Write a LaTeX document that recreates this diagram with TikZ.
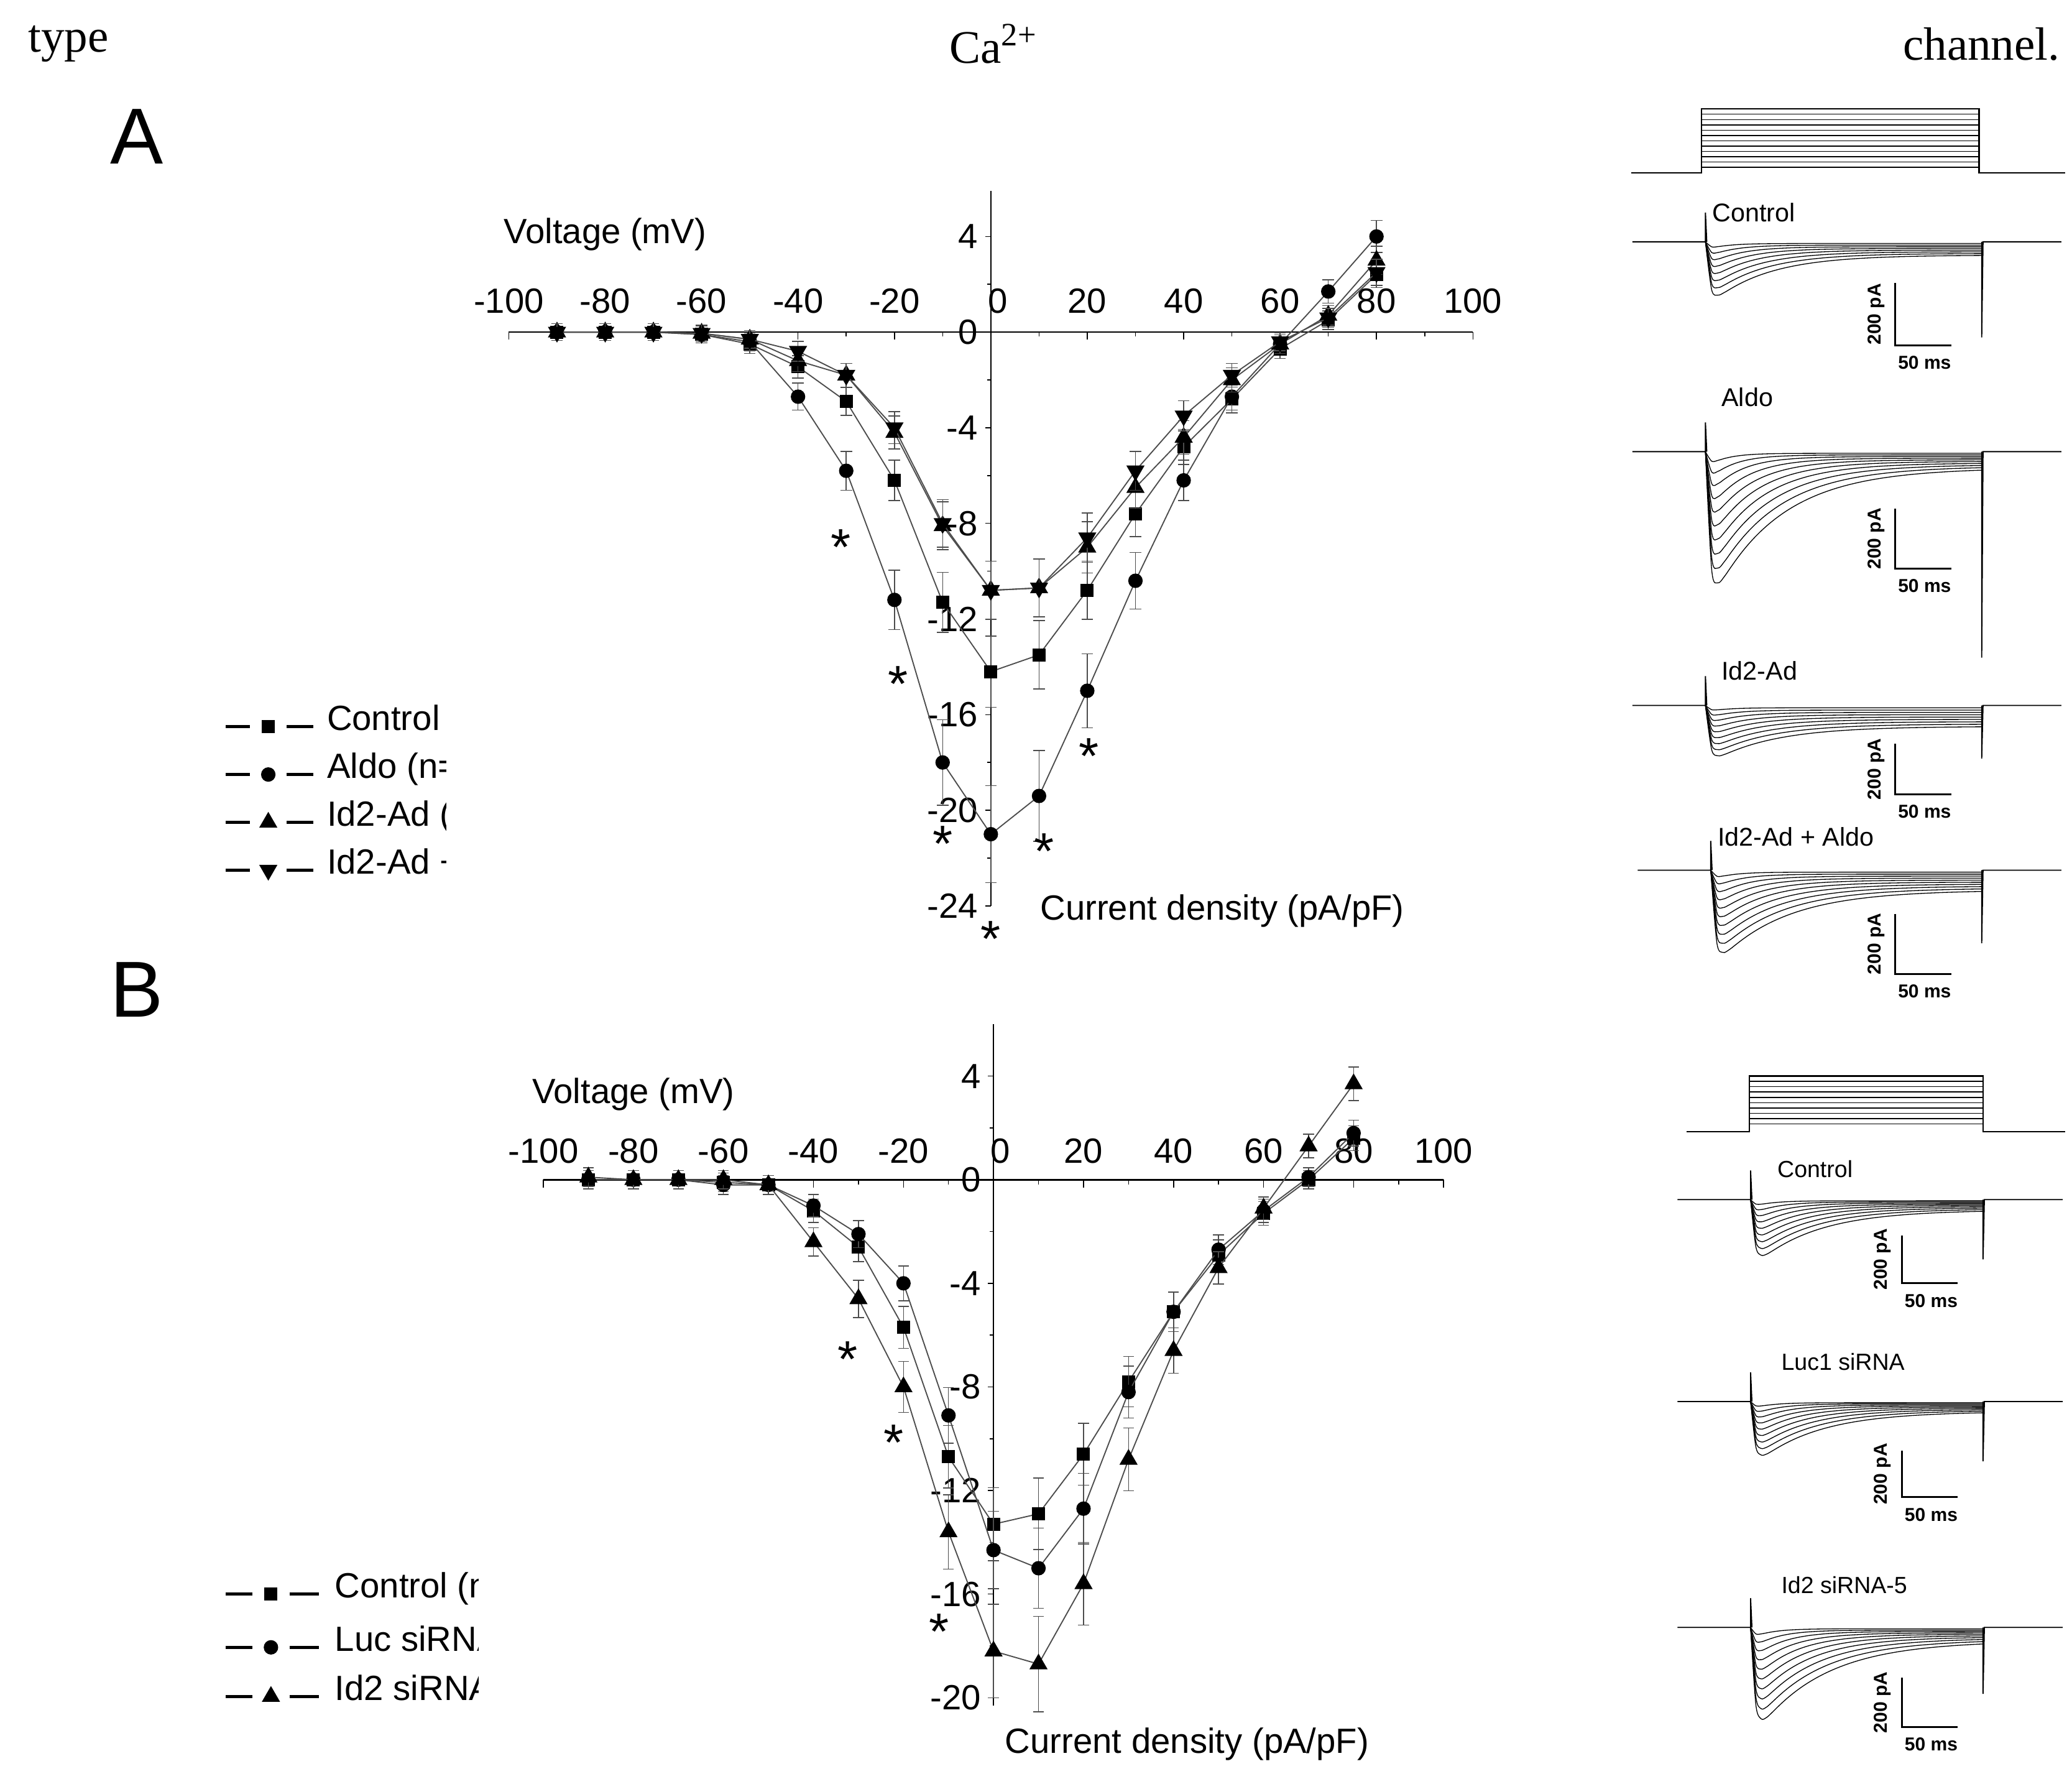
\documentclass[tikz,border=0pt]{standalone}
\usepackage{fontspec}
\setmainfont{Liberation Sans}
\newfontfamily\seriffont{Liberation Serif}
\usetikzlibrary{shapes.geometric}
\newcommand\mytrace[7]{% base, amp, n, x0, x1, endspike, slowfrac
  \draw[line width=0.5pt] (#4-55,#1) -- (#4,#1) -- (#4,#1-22) -- (#4+1,#1);
  \foreach \k in {1,...,#3}{
    \draw[line width=0.35pt] plot[domain=0:{#5-#4},samples=45,smooth] ({#4+\x},{#1+#2*\k/#3*(1-exp(-\x/3))*(#7+(1-#7)*exp(-\x/(10+4*\k)))});
  }
  \draw[line width=0.5pt] (#5,#1) -- (#5,#1+#6) -- (#5+1,#1) -- (#5+60,#1);
}
\newcommand\myscale[3]{% x, ytop, ybottom
  \draw[line width=0.8pt] (#1,#2) -- (#1,#3) -- (#1+42,#3);
  \node[rotate=90,font=\bfseries\fontsize{8}{9}\selectfont,anchor=south] at (#1-2,{(#2+#3)/2}) {200 pA};
  \node[font=\bfseries\fontsize{8}{9}\selectfont] at (#1+22,#3+13) {50 ms};
}
\newcommand\myseries[2]{% marker, list
   \draw[dl] (-90,0) \foreach \x/\y in {#2} { -- (\x,\y)};
   \foreach \x/\y in {#2} {
     \draw[eb] (\x,{\y-0.08*abs(\y)-0.35}) -- (\x,{\y+0.08*abs(\y)+0.35});
     \draw[eb] (\x-1.2,{\y-0.08*abs(\y)-0.35}) -- (\x+1.2,{\y-0.08*abs(\y)-0.35});
     \draw[eb] (\x-1.2,{\y+0.08*abs(\y)+0.35}) -- (\x+1.2,{\y+0.08*abs(\y)+0.35});
     \node[#1] at (\x,\y) {};}
}
\begin{document}
\begin{tikzpicture}[x=0.02cm,y=-0.02cm,
  sq/.style={rectangle,fill=black,inner sep=0,minimum size=5.6pt},
  ci/.style={circle,fill=black,inner sep=0,minimum size=6.2pt},
  tu/.style={regular polygon,regular polygon sides=3,fill=black,inner sep=0,minimum size=9pt},
  td/.style={regular polygon,regular polygon sides=3,shape border rotate=180,fill=black,inner sep=0,minimum size=9pt},
  dl/.style={line width=0.5pt,black!70},
  eb/.style={line width=0.4pt,black!70},
  tick/.style={font=\fontsize{15}{17}\selectfont},
  lab/.style={font=\fontsize{15}{17}\selectfont},
  tl/.style={font=\fontsize{11}{13}\selectfont,anchor=west}]
\useasboundingbox (0,0) rectangle (1560,1335);
% header
\node[font=\seriffont\fontsize{20}{22}\selectfont,anchor=west] at (15,33) {type};
\node[font=\seriffont\fontsize{20}{22}\selectfont] at (748,33) {Ca\textsuperscript{2+}};
\node[font=\seriffont\fontsize{20}{22}\selectfont,anchor=east] at (1557,33) {channel.};
\node[font=\fontsize{34}{36}\selectfont] at (103,103) {A};
\node[font=\fontsize{34}{36}\selectfont] at (103,745) {B};

% ================= Panel A plot
\begin{scope}[shift={(746,250)},x=0.0726cm,y=0.36cm]
 \draw[line width=0.7pt] (-100,0) -- (100,0);
 \draw[line width=0.7pt] (0,5.9) -- (0,-24);
 \foreach \v in {-100,-80,...,100}{\draw (\v,0) -- (\v,-0.3);}
 \foreach \v in {-90,-70,...,90}{\draw (\v,0) -- (\v,-0.18);}
 \foreach \v in {-100,-80,-60,-40,-20,20,40,60,80,100}{\node[tick] at (\v,1.3) {\v};}
 \node[tick] at (1.5,1.3) {0};
 \foreach \v in {4,0,-4,-8,-12,-16,-20,-24}{\draw (0,\v) -- (-1.2,\v); \node[tick,anchor=east] at (-1,\v) {\v};}
 \foreach \v in {2,-2,-6,-10,-14,-18,-22}{\draw (0,\v) -- (-0.8,\v);}
 \node[lab] at (-80,4.1) {Voltage (mV)};
 \node[lab] at (48,-24.2) {Current density (pA/pF)};
 \myseries{sq}{-90/0,-80/0,-70/0,-60/-0.1,-50/-0.5,-40/-1.45,-30/-2.9,-20/-6.2,-10/-11.3,0/-14.2,10/-13.5,20/-10.8,30/-7.6,40/-4.8,50/-2.8,60/-0.7,70/0.5,80/2.4}
 \myseries{ci}{-90/0,-80/0,-70/0,-60/-0.1,-50/-0.4,-40/-2.7,-30/-5.8,-20/-11.2,-10/-18,0/-21,10/-19.4,20/-15,30/-10.4,40/-6.2,50/-2.7,60/-0.5,70/1.7,80/4}
 \myseries{tu}{-90/0,-80/0,-70/0,-60/-0.05,-50/-0.3,-40/-1.2,-30/-1.8,-20/-4.2,-10/-8.1,0/-10.8,10/-10.7,20/-9,30/-6.5,40/-4.4,50/-2,60/-0.5,70/0.7,80/3}
 \myseries{td}{-90/0,-80/0,-70/0,-60/-0.05,-50/-0.3,-40/-0.8,-30/-1.8,-20/-4,-10/-8,0/-10.8,10/-10.7,20/-8.6,30/-5.8,40/-3.5,50/-1.8,60/-0.4,70/0.6,80/2.5}
\end{scope}
\foreach \p in {(633,412),(676,515),(710,635),(746,707),(786,641),(820,569)}{\node[font=\fontsize{22}{22}\selectfont] at \p {*};}
% legend A
\begin{scope}
 \clip (160,520) rectangle (336,670);
 \foreach \yy/\M/\T in {543/sq/Control (n=12),579/ci/Aldo (n=12),615/tu/Id2-Ad (n=12),651/td/Id2-Ad + Aldo (n=12)}{
   \draw[line width=1.3pt] (170,\yy+4) -- (188,\yy+4); \draw[line width=1.3pt] (216,\yy+4) -- (236,\yy+4);
   \node[\M] at (202,\yy+4) {};
   \node[lab,anchor=west] at (240,\yy) {\T};}
\end{scope}

% ================= Panel B plot
\begin{scope}[shift={(748,888)},x=0.0678cm,y=0.39cm]
 \draw[line width=0.7pt] (-100,0) -- (100,0);
 \draw[line width=0.7pt] (0,6) -- (0,-20.3);
 \foreach \v in {-100,-80,...,100}{\draw (\v,0) -- (\v,-0.3);}
 \foreach \v in {-90,-70,...,90}{\draw (\v,0) -- (\v,-0.18);}
 \foreach \v in {-100,-80,-60,-40,-20,20,40,60,80,100}{\node[tick] at (\v,1.1) {\v};}
 \node[tick] at (1.5,1.1) {0};
 \foreach \v in {4,0,-4,-8,-12,-16,-20}{\draw (0,\v) -- (-1.2,\v); \node[tick,anchor=east] at (-1,\v) {\v};}
 \foreach \v in {2,-2,-6,-10,-14,-18}{\draw (0,\v) -- (-0.8,\v);}
 \node[lab] at (-80,3.3) {Voltage (mV)};
 \node[lab] at (43,-21.8) {Current density (pA/pF)};
 \myseries{sq}{-90/0,-80/0,-70/0,-60/-0.1,-50/-0.2,-40/-1.2,-30/-2.6,-20/-5.7,-10/-10.7,0/-13.3,10/-12.9,20/-10.6,30/-7.8,40/-5.1,50/-2.9,60/-1.3,70/0,80/1.6}
 \myseries{ci}{-90/0,-80/0,-70/0,-60/-0.2,-50/-0.2,-40/-1,-30/-2.1,-20/-4,-10/-9.1,0/-14.3,10/-15,20/-12.7,30/-8.2,40/-5.1,50/-2.7,60/-1.2,70/0.1,80/1.8}
 \myseries{tu}{-90/0.1,-80/0,-70/0,-60/0,-50/-0.2,-40/-2.4,-30/-4.6,-20/-8,-10/-13.6,0/-18.2,10/-18.7,20/-15.6,30/-10.8,40/-6.6,50/-3.4,60/-1.1,70/1.3,80/3.7}
\end{scope}
\foreach \p in {(638,1023),(673,1086),(707,1228)}{\node[font=\fontsize{22}{22}\selectfont] at \p {*};}
% legend B
\begin{scope}
 \clip (160,1175) rectangle (360,1295);
 \foreach \yy/\M/\T in {1196/sq/Control (n=10),1236/ci/Luc siRNA (n=10),1273/tu/Id2 siRNA-5 (n=10)}{
   \draw[line width=1.3pt] (170,\yy+4) -- (190,\yy+4); \draw[line width=1.3pt] (218,\yy+4) -- (240,\yy+4);
   \node[\M] at (204,\yy+4) {};
   \node[lab,anchor=west] at (246,\yy) {\T};}
\end{scope}

% ================= Traces A
\draw[line width=0.6pt] (1228,130) -- (1281,130) -- (1281,82) -- (1490,82) -- (1490,130) -- (1555,130);
\foreach \yy in {86,90,...,126}{\draw[line width=0.4pt] (1281,\yy) -- (1490,\yy);}
\node[tl] at (1283,160) {Control};
\mytrace{182}{50}{8}{1284}{1492}{72}{0.2}
\myscale{1427}{213}{260}
\node[tl] at (1290,299) {Aldo};
\mytrace{340}{122}{10}{1284}{1492}{155}{0.1}
\myscale{1427}{383}{428}
\node[tl] at (1290,505) {Id2-Ad};
\mytrace{531}{45}{9}{1284}{1492}{40}{0.35}
\myscale{1427}{560}{598}
\node[tl] at (1287,630) {Id2-Ad + Aldo};
\mytrace{655}{75}{10}{1288}{1492}{55}{0.2}
\myscale{1427}{688}{733}

% ================= Traces B
\draw[line width=0.6pt] (1270,852) -- (1317,852) -- (1317,810) -- (1493,810) -- (1493,852) -- (1555,852);
\foreach \yy in {814,818,...,848}{\draw[line width=0.4pt] (1317,\yy) -- (1493,\yy);}
\node[tl,font=\fontsize{10}{12}\selectfont] at (1332,880) {Control};
\mytrace{903}{52}{9}{1318}{1493}{45}{0.15}
\myscale{1432}{930}{966}
\node[tl,font=\fontsize{10}{12}\selectfont] at (1335,1025) {Luc1 siRNA};
\mytrace{1055}{50}{9}{1318}{1493}{45}{0.15}
\myscale{1432}{1092}{1127}
\node[tl,font=\fontsize{10}{12}\selectfont] at (1335,1193) {Id2 siRNA-5};
\mytrace{1225}{85}{10}{1318}{1493}{50}{0.12}
\myscale{1432}{1263}{1300}
\end{tikzpicture}
\end{document}
